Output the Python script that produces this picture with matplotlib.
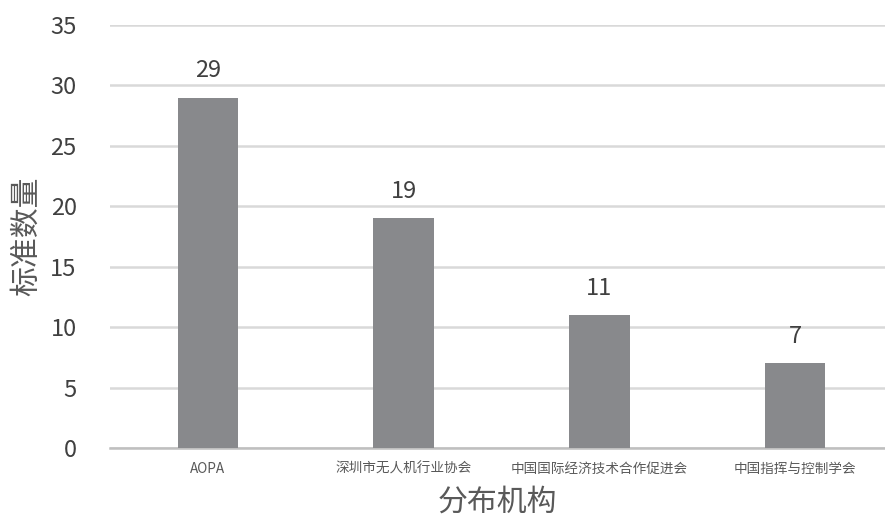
import matplotlib
matplotlib.use("Agg")
import matplotlib.pyplot as plt

plt.rcParams['font.family'] = ['Noto Sans CJK SC', 'DejaVu Sans']

orgs = ['AOPA', '深圳市无人机行业协会', '中国国际经济技术合作促进会', '中国指挥与控制学会']
counts = [29, 19, 11, 7]

fig = plt.figure(figsize=(8.85, 5.18), dpi=100)
ax = fig.add_axes([110 / 885, 70 / 518, 775 / 885, 423 / 518])

x = range(len(orgs))
bars = ax.bar(x, counts, width=0.31, color='#88898c', zorder=3)
for b, v in zip(bars, counts):
    ax.annotate(str(v), (b.get_x() + b.get_width() / 2, v), xytext=(0, 11),
                textcoords='offset points', ha='center', va='bottom',
                fontsize=17, color='#404040')

ax.set_ylim(0, 35)
ax.set_yticks(range(0, 36, 5))
ax.set_xlim(-0.5, 3.46)
ax.set_xticks(list(x))
ax.set_xticklabels(orgs, fontsize=9.8, color='#595959')
ax.tick_params(axis='y', labelsize=17, labelcolor='#404040', length=0, pad=24)
ax.tick_params(axis='x', length=0, pad=10)
ax.grid(axis='y', color='#d9d9d9', linewidth=1.8, zorder=0)
for s in ['top', 'right', 'left']:
    ax.spines[s].set_visible(False)
ax.spines['bottom'].set_color('#bfbfbf')
ax.spines['bottom'].set_linewidth(1.8)

ax.set_xlabel('分布机构', fontsize=21.5, color='#595959', labelpad=8)
ax.set_ylabel('标准数量', fontsize=21.5, color='#595959', labelpad=6)

fig.savefig('out.png', dpi=100)
